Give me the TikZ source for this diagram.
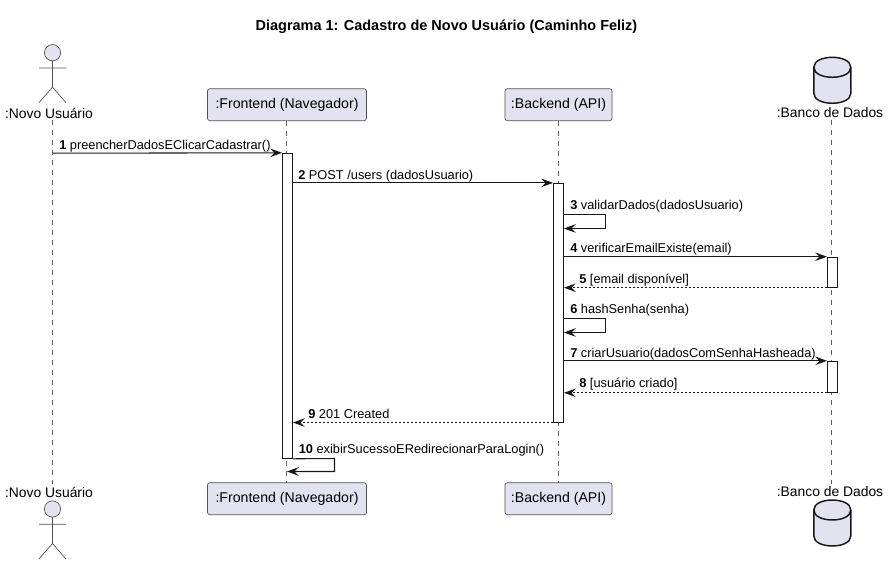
\documentclass[tikz,border=0pt]{standalone}
\usepackage{fontspec}
\setmainfont{Liberation Sans}
\usetikzlibrary{arrows.meta}
\definecolor{fillc}{HTML}{E2E2F0}
\definecolor{linec}{HTML}{181818}
\tikzset{
  x=0.75pt,y=-0.75pt,
  msg/.style={draw=linec,line width=0.8pt,-{Stealth[length=8.8pt,width=6.4pt,inset=3.2pt,color=linec]}},
  ret/.style={msg,dash pattern=on 1.5pt off 1.5pt},
  life/.style={draw=linec!70,line width=0.4pt,dash pattern=on 3.75pt off 3.75pt},
  part/.style={draw=linec!75,line width=0.5pt,fill=fillc,rounded corners=1.8pt,inner sep=0pt,minimum height=24pt,font=\fontsize{10.6}{12}\selectfont},
  alabel/.style={inner sep=0pt,font=\fontsize{10.4}{12}\selectfont},
  act/.style={draw=linec,line width=0.75pt,fill=white,inner sep=0pt,minimum width=7.5pt},
  lbl/.style={inner sep=0pt,anchor=base west,font=\fontsize{9.6}{12}\selectfont},
  stick/.style={draw=linec!75,line width=0.5pt},
  head/.style={circle,draw=linec!75,line width=0.5pt,fill=fillc,inner sep=0pt,minimum size=12.2pt},
  dbline/.style={draw=linec,line width=1.1pt,fill=fillc},
}
\newcommand{\mnum}[1]{\textbf{#1}}
\newcommand{\dbcyl}[1]{%
  \begin{scope}[shift={#1}]
    \path[dbline] (-18.5,10) .. controls (-18.5,-3.3) and (18.5,-3.3) .. (18.5,10) -- (18.5,36)
       .. controls (18.5,49.3) and (-18.5,49.3) .. (-18.5,36) -- cycle;
    \draw[dbline,fill=none] (-18.5,10) .. controls (-18.5,23.3) and (18.5,23.3) .. (18.5,10);
  \end{scope}}
\newcommand{\stickman}[2]{%
  \node[head] (#2) at #1 {};
  \begin{scope}[shift={#1}]
    \draw[stick] (0,8) -- (0,34.5) (-13.5,15.3) -- (13.5,15.3) (-13.5,50) -- (0,34.5) -- (13.5,50);
  \end{scope}}
\begin{document}
\begin{tikzpicture}
\useasboundingbox (0,0) rectangle (889,564);
\node[font=\bfseries\fontsize{10.85}{12}\selectfont,inner sep=0pt] (title) at (446.5,26.5) {Diagrama 1: Cadastro de Novo Usuário (Caminho Feliz)};

% lifelines
\node[alabel] (ut) at (49,113) {:Novo Usuário};
\node[alabel] (ub) at (49,492) {:Novo Usuário};
\node[part,minimum width=119.25pt] (ft) at (287,104.7) {:Frontend (Navegador)};
\node[part,minimum width=119.25pt] (fb) at (287,498.7) {:Frontend (Navegador)};
\node[part,minimum width=80.25pt] (bt) at (558.5,104.7) {:Backend (API)};
\node[part,minimum width=80.25pt] (bb) at (558.5,498.7) {:Backend (API)};
\node[alabel] (dt) at (830,113) {:Banco de Dados};
\node[alabel] (db) at (830,492) {:Banco de Dados};

\coordinate (ul) at (52.5,120); \coordinate (ule) at (52.5,484);
\coordinate (fl) at (286.5,120.7); \coordinate (fle) at (286.5,482.7);
\coordinate (bl) at (558.3,120.7); \coordinate (ble) at (558.3,482.7);
\coordinate (dl) at (831.7,120); \coordinate (dle) at (831.7,484);
\draw[life] (ul) -- (ule);
\draw[life] (fl) -- (fle);
\draw[life] (bl) -- (ble);
\draw[life] (dl) -- (dle);

% actors
\stickman{(52.5,52.7)}{headt}
\stickman{(52.5,509)}{headb}
\dbcyl{(832.3,57.3)}
\dbcyl{(832.3,500)}

% activations
\node[act,minimum height=228.75pt] (af) at (287.5,305.8) {};
\node[act,minimum height=179pt] (ab) at (558.5,302.7) {};
\node[act,minimum height=22.5pt] (ad1) at (832.5,272.2) {};
\node[act,minimum height=23.25pt] (ad2) at (832.5,376.8) {};

% messages
\coordinate (m1a) at (52.5,153.2);
\draw[msg] (m1a) -- (af.north west);
\node[lbl] (l1) at (59,149) {\mnum{1} preencherDadosEClicarCadastrar()};

\draw[msg] (af.east |- ab.north) -- (ab.north west);
\node[lbl] (l2) at (298,179) {\mnum{2} POST /users (dadosUsuario)};

\draw[msg] (ab.east |- 0,214.5) -- (605.5,214.5) -- (605.5,228.5) -- (ab.east |- 0,228.5);
\node[lbl] (l3) at (570,209) {\mnum{3} validarDados(dadosUsuario)};

\draw[msg] (ab.east |- ad1.north) -- (ad1.north west);
\node[lbl] (l4) at (570,252.7) {\mnum{4} verificarEmailExiste(email)};

\draw[ret] (ad1.south west) -- (ab.east |- ad1.south);
\node[lbl] (l5) at (579,283) {\mnum{5} [email disponível]};

\draw[msg] (ab.east |- 0,318.5) -- (605.5,318.5) -- (605.5,332.5) -- (ab.east |- 0,332.5);
\node[lbl] (l6) at (570,313) {\mnum{6} hashSenha(senha)};

\draw[msg] (ab.east |- ad2.north) -- (ad2.north west);
\node[lbl] (l7) at (570,357) {\mnum{7} criarUsuario(dadosComSenhaHasheada)};

\draw[ret] (ad2.south west) -- (ab.east |- ad2.south);
\node[lbl] (l8) at (579,387.3) {\mnum{8} [usuário criado]};

\draw[ret] (ab.south west) -- (af.east |- ab.south);
\node[lbl] (l9) at (308,418) {\mnum{9} 201 Created};

\coordinate (m10) at (287,471.5);
\draw[msg] (af.south east) -- (334.5,458.5) -- (334.5,471.5) -- (m10);
\node[lbl] (l10) at (298.5,453.5) {\mnum{10} exibirSucessoERedirecionarParaLogin()};
\end{tikzpicture}
\end{document}
